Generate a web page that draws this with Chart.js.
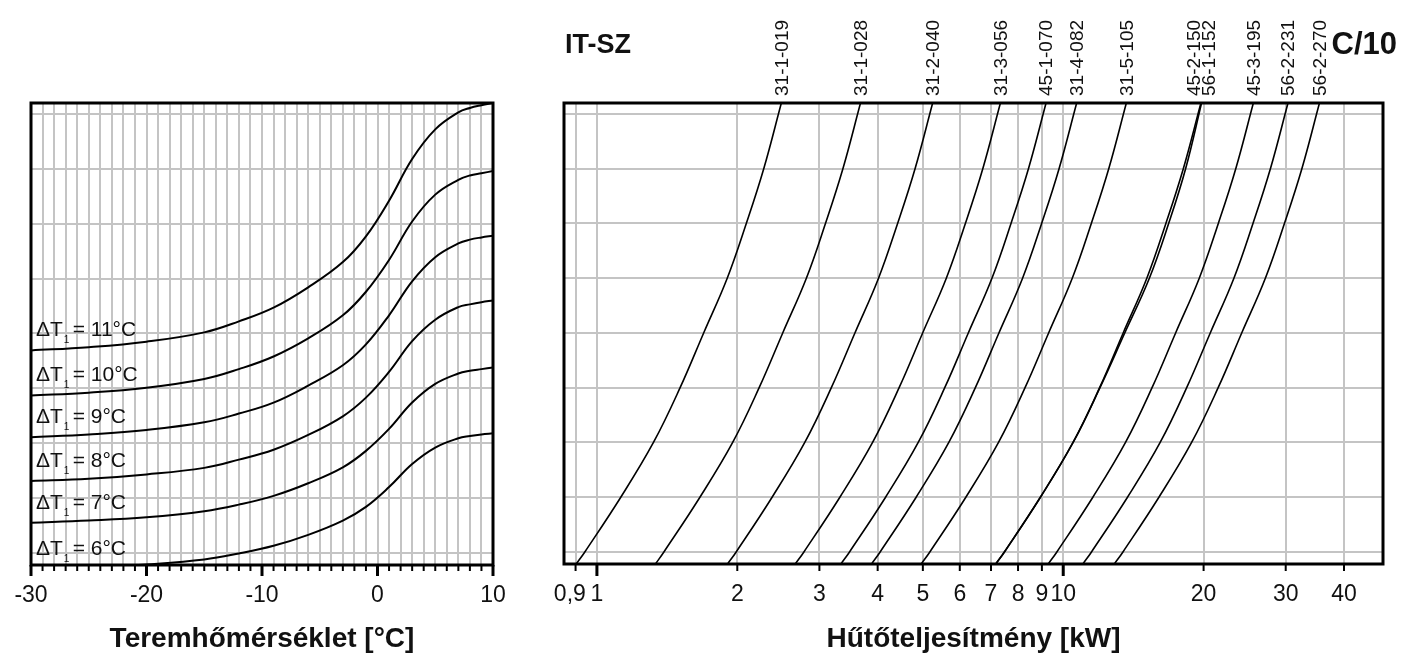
<!DOCTYPE html>
<html>
<head>
<meta charset="utf-8">
<title>IT-SZ C/10</title>
<script src="https://cdn.jsdelivr.net/npm/chart.js@4.4.0/dist/chart.umd.min.js"></script>
<style>
    html, body { margin: 0; padding: 0; background: #fff; }
    body { width: 1402px; height: 660px; position: relative; overflow: hidden; }
    #roomChart { position: absolute; left: 0; top: 0; }
    #powerChart { position: absolute; left: 540px; top: 0; }
</style>
</head>
<body>
<canvas id="roomChart" width="540" height="660"></canvas>
<canvas id="powerChart" width="862" height="660"></canvas>
<script>
// ===== Left panel: room temperature vs. chart level, one curve per ΔT1 =====
const roomTemps = [-30, -25, -20, -15, -12, -9, -6, -3, -1, 1, 3, 5, 7, 8, 9, 10];
const dT11 = [3.69, 3.75, 3.85, 4.02, 4.22, 4.47, 4.84, 5.30, 5.77, 6.42, 7.18, 7.72, 8.03, 8.11, 8.16, 8.20];
const dT10 = [2.87, 2.92, 3.01, 3.17, 3.35, 3.58, 3.91, 4.33, 4.76, 5.34, 6.04, 6.53, 6.80, 6.88, 6.92, 6.96];
const dT9  = [2.11, 2.16, 2.24, 2.38, 2.54, 2.74, 3.05, 3.42, 3.80, 4.33, 4.95, 5.39, 5.64, 5.71, 5.75, 5.78];
const dT8  = [1.31, 1.35, 1.43, 1.55, 1.70, 1.88, 2.15, 2.49, 2.83, 3.30, 3.86, 4.25, 4.48, 4.53, 4.57, 4.60];
const dT7  = [0.55, 0.59, 0.65, 0.76, 0.88, 1.04, 1.27, 1.56, 1.86, 2.26, 2.74, 3.08, 3.27, 3.32, 3.35, 3.38];
const dT6  = [-0.30, -0.27, -0.21, -0.12, -0.01, 0.13, 0.33, 0.59, 0.84, 1.20, 1.62, 1.92, 2.09, 2.13, 2.16, 2.18];
const dTLabels = ['11', '10', '9', '8', '7', '6'];
const tempTicks = [-30, -20, -10, 0, 10];

// ===== Right panel: cooling capacity [kW] per unit at each chart level =====
const levelSteps = [-0.22, 0, 1, 2, 3, 4, 5, 6, 7, 8.2];
const m31_1_019 = [0.903, 0.942, 1.125, 1.322, 1.508, 1.694, 1.903, 2.091, 2.279, 2.486];
const m31_1_028 = [1.335, 1.392, 1.663, 1.955, 2.228, 2.503, 2.813, 3.091, 3.369, 3.675];
const m31_2_040 = [1.906, 1.989, 2.375, 2.791, 3.182, 3.575, 4.017, 4.414, 4.811, 5.248];
const m31_3_056 = [2.663, 2.779, 3.319, 3.901, 4.447, 4.995, 5.614, 6.168, 6.722, 7.333];
const m45_1_070 = [3.336, 3.481, 4.159, 4.887, 5.571, 6.258, 7.033, 7.727, 8.422, 9.187];
const m31_4_082 = [3.881, 4.049, 4.837, 5.684, 6.480, 7.279, 8.181, 8.989, 9.796, 10.686];
const m31_5_105 = [4.960, 5.175, 6.182, 7.265, 8.282, 9.304, 10.456, 11.488, 12.520, 13.657];
const m45_2_150 = [7.168, 7.479, 8.934, 10.498, 11.968, 13.445, 15.110, 16.601, 18.093, 19.736];
const m56_1_152 = [7.168, 7.479, 8.934, 10.50, 11.99, 13.55, 15.30, 16.83, 18.30, 19.80];
const m45_3_195 = [9.286, 9.690, 11.575, 13.601, 15.505, 17.419, 19.576, 21.508, 23.441, 25.570];
const m56_2_231 = [11.019, 11.497, 13.734, 16.139, 18.398, 20.668, 23.228, 25.521, 27.814, 30.340];
const m56_2_270 = [12.87, 13.43, 16.04, 18.85, 21.49, 24.14, 27.13, 29.81, 32.49, 35.44];
const modelNames = ['31-1-019', '31-1-028', '31-2-040', '31-3-056', '45-1-070', '31-4-082',
    '31-5-105', '45-2-150', '56-1-152', '45-3-195', '56-2-231', '56-2-270'];
const kwTicks = [0.9, 1, 2, 3, 4, 5, 6, 7, 8, 9, 10, 20, 30, 40];
const kwMajor = [1, 10];
const levelGrid = [0, 1, 2, 3, 4, 5, 6, 7, 8];

// ===== Styling =====
const FONT = 'Liberation Sans, Arial, sans-serif';
const gridColor = '#c4c4c4';
const inkColor = '#111';

// frame around the plot area + tick marks hanging under the bottom axis
function makeFrame(majors, minorLen, majorLen) {
    return {
        id: 'frame',
        afterDatasetsDraw(chart) {
            const { ctx, chartArea: a, scales: { x } } = chart;
            ctx.save();
            ctx.strokeStyle = '#000';
            x.ticks.forEach(t => {
                const px = x.getPixelForValue(t.value);
                const major = majors.includes(t.value);
                ctx.lineWidth = major ? 3 : 2;
                ctx.beginPath();
                ctx.moveTo(px, a.bottom);
                ctx.lineTo(px, a.bottom + (major ? majorLen : minorLen));
                ctx.stroke();
            });
            ctx.lineWidth = 3;
            ctx.strokeRect(a.left, a.top, a.right - a.left, a.bottom - a.top);
            ctx.restore();
        }
    };
}

// "ΔT1 = 11°C" labels above the start of each left curve
const deltaLabels = {
    id: 'deltaLabels',
    afterDatasetsDraw(chart) {
        const { ctx, chartArea: a, scales: { y } } = chart;
        ctx.save();
        ctx.fillStyle = inkColor;
        ctx.textAlign = 'left';
        ctx.textBaseline = 'alphabetic';
        chart.data.datasets.forEach((ds, i) => {
            const base = y.getPixelForValue(ds.data[0].y) - 14;
            const x0 = a.left + 5;
            ctx.font = '21px ' + FONT;
            ctx.fillText('ΔT', x0, base);
            const w = ctx.measureText('ΔT').width;
            ctx.fillText(' = ' + dTLabels[i] + '°C', x0 + w + 4, base);
            ctx.font = '10px ' + FONT;
            ctx.fillText('1', x0 + w + 1, base + 7);
        });
        ctx.restore();
    }
};

// rotated model names above the top of each right curve, plus the two headings
const modelLabels = {
    id: 'modelLabels',
    afterDatasetsDraw(chart) {
        const { ctx, chartArea: a, scales: { x } } = chart;
        const nudge = { '45-2-150': -7, '56-1-152': 7 };
        ctx.save();
        ctx.fillStyle = inkColor;
        ctx.font = '19px ' + FONT;
        chart.data.datasets.forEach(ds => {
            const last = ds.data[ds.data.length - 1];
            const px = x.getPixelForValue(last.x) + (nudge[ds.label] || 0) + 1;
            ctx.save();
            ctx.translate(px, a.top - 7);
            ctx.rotate(-Math.PI / 2);
            ctx.textAlign = 'left';
            ctx.textBaseline = 'middle';
            ctx.fillText(ds.label, 0, 0);
            ctx.restore();
        });
        ctx.font = 'bold 27px ' + FONT;
        ctx.textBaseline = 'middle';
        ctx.textAlign = 'left';
        ctx.fillText('IT-SZ', a.left + 1, 46);
        ctx.font = 'bold 31px ' + FONT;
        ctx.textAlign = 'right';
        ctx.fillText('C/10', chart.width - 5, 45);
        ctx.restore();
    }
};

function levelAxis() {
    return {
        type: 'linear',
        min: -0.22,
        max: 8.2,
        afterBuildTicks: s => { s.ticks = levelGrid.map(v => ({ value: v })); },
        ticks: { display: false },
        grid: { color: gridColor, lineWidth: 2, drawTicks: false },
        border: { display: false },
        afterFit: s => { s.width = 0; }
    };
}

function bottomTitle(text) {
    return {
        display: true,
        text: text,
        color: inkColor,
        font: { family: FONT, size: 28, weight: 'bold' },
        padding: { top: 0, bottom: 4 }
    };
}

const tickFont = { family: FONT, size: 23 };
// invisible tick marks only push the labels down (the visible ones come from the frame plugin)
const xGrid = { color: gridColor, lineWidth: 2, drawTicks: true, tickLength: 12, tickColor: 'rgba(0,0,0,0)' };

// ===== Left chart =====
const dTSeries = [dT11, dT10, dT9, dT8, dT7, dT6];

new Chart(document.getElementById('roomChart'), {
    type: 'line',
    data: {
        datasets: dTSeries.map((ys, i) => ({
            label: 'ΔT1 = ' + dTLabels[i] + '°C',
            data: ys.map((v, j) => ({ x: roomTemps[j], y: v })),
            borderColor: '#000',
            borderWidth: 2,
            pointRadius: 0,
            tension: 0.4,
            fill: false
        }))
    },
    options: {
        responsive: false,
        animation: false,
        events: [],
        layout: { padding: { left: 31, right: 47, top: 103, bottom: 0 } },
        plugins: { legend: { display: false }, tooltip: { enabled: false } },
        scales: {
            x: {
                type: 'linear',
                min: -30,
                max: 10,
                grid: xGrid,
                border: { display: false },
                ticks: {
                    stepSize: 1,
                    autoSkip: false,
                    maxRotation: 0,
                    padding: 5,
                    color: inkColor,
                    font: tickFont,
                    callback: v => tempTicks.includes(v) ? String(v) : ''
                },
                title: bottomTitle('Teremhőmérséklet [°C]'),
                afterFit: s => { s.height = 95; }
            },
            y: levelAxis()
        }
    },
    plugins: [makeFrame(tempTicks, 6, 11), deltaLabels]
});

// ===== Right chart =====
const modelSeries = [m31_1_019, m31_1_028, m31_2_040, m31_3_056, m45_1_070, m31_4_082,
    m31_5_105, m45_2_150, m56_1_152, m45_3_195, m56_2_231, m56_2_270];

new Chart(document.getElementById('powerChart'), {
    type: 'line',
    data: {
        datasets: modelSeries.map((xs, i) => ({
            label: modelNames[i],
            data: xs.map((v, j) => ({ x: v, y: levelSteps[j] })),
            borderColor: '#000',
            borderWidth: 1.6,
            pointRadius: 0,
            tension: 0.4,
            fill: false
        }))
    },
    options: {
        responsive: false,
        animation: false,
        events: [],
        layout: { padding: { left: 24, right: 19, top: 103, bottom: 0 } },
        plugins: { legend: { display: false }, tooltip: { enabled: false } },
        scales: {
            x: {
                type: 'logarithmic',
                min: 0.85,
                max: 48.5,
                afterBuildTicks: s => { s.ticks = kwTicks.map(v => ({ value: v })); },
                grid: xGrid,
                border: { display: false },
                ticks: {
                    autoSkip: false,
                    maxRotation: 0,
                    minRotation: 0,
                    padding: 5,
                    color: inkColor,
                    font: tickFont,
                    // "0,9" sits a little left of its tick so it clears the "1"
                    callback: v => v < 1 ? String(v).replace('.', ',') + '\u2002' : String(v)
                },
                title: bottomTitle('Hűtőteljesítmény [kW]'),
                afterFit: s => { s.height = 96; }
            },
            y: levelAxis()
        }
    },
    plugins: [makeFrame(kwMajor, 7, 12), modelLabels]
});
</script>
</body>
</html>
